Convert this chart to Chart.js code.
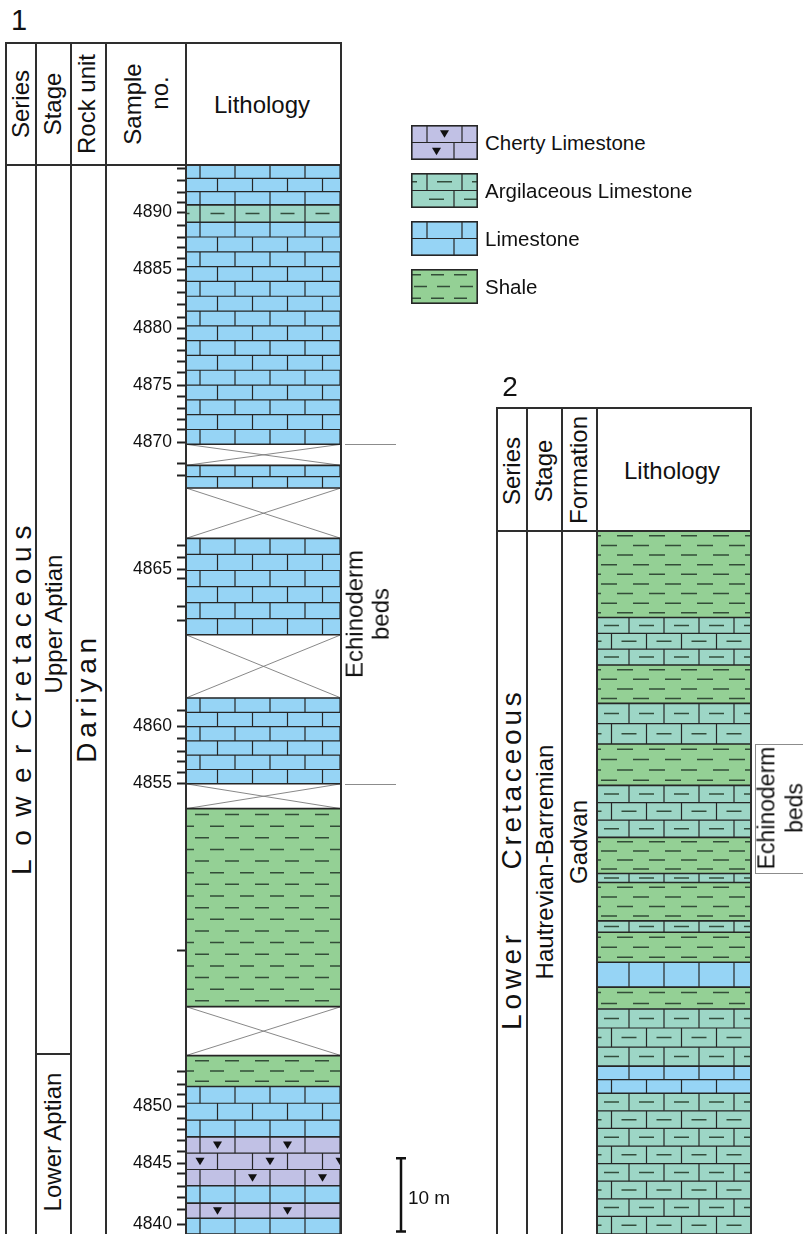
<!DOCTYPE html>
<html>
<head>
<meta charset="utf-8">
<script src="https://cdn.jsdelivr.net/npm/chart.js@4.4.1/dist/chart.umd.min.js"></script>
<style>
  html, body { margin: 0; padding: 0; background: #fff; }
  body { width: 803px; height: 1234px; position: relative; overflow: hidden;
         font-family: "Liberation Sans", Arial, sans-serif; color: #111; }
  canvas { position: absolute; }
  .ln { position: absolute; background: #2e2e2e; }
  .t { position: absolute; white-space: nowrap; line-height: 1; transform: translate(-50%, -50%); }
  .r { transform: translate(-50%, -50%) rotate(-90deg); text-align: center; }
</style>
</head>
<body>
<canvas id="col1" width="360" height="1069" style="left:106px;top:165px"></canvas>
<canvas id="col2" width="206" height="703" style="left:597px;top:531px"></canvas>
<div id="frames"></div>
<div id="legend"></div>

<div class="t" style="left:19px;top:20px;font-size:29px">1</div>
<div class="t r" style="left:21px;top:104px;font-size:24px">Series</div>
<div class="t r" style="left:53px;top:104px;font-size:24px">Stage</div>
<div class="t r" style="left:87px;top:104px;font-size:24px">Rock unit</div>
<div class="t r" style="left:133px;top:104px;font-size:24px">Sample</div>
<div class="t r" style="left:160px;top:93px;font-size:24px">no.</div>
<div class="t" style="left:262px;top:105px;font-size:24px">Lithology</div>

<div class="t r" style="left:22px;top:624px;font-size:28px;letter-spacing:6.7px">Cretaceous</div>
<div class="t r" style="left:22px;top:803px;font-size:28px;letter-spacing:13.5px">Lower</div>
<div class="t r" style="left:54px;top:624px;font-size:24px">Upper Aptian</div>
<div class="t r" style="left:53px;top:1142px;font-size:24px">Lower Aptian</div>
<div class="t r" style="left:87px;top:698px;font-size:28px;letter-spacing:4.7px">Dariyan</div>
<div class="t r" style="left:368px;top:614px;font-size:24px;line-height:1.1">Echinoderm<br>beds</div>
<div class="t" style="left:429px;top:1197px;font-size:19px">10 m</div>

<div class="t" style="left:510px;top:387px;font-size:28px">2</div>
<div class="t r" style="left:512px;top:471px;font-size:24px">Series</div>
<div class="t r" style="left:544px;top:471px;font-size:24px">Stage</div>
<div class="t r" style="left:579px;top:470px;font-size:24px">Formation</div>
<div class="t" style="left:672px;top:471px;font-size:24px">Lithology</div>
<div class="t r" style="left:512px;top:779px;font-size:28px;letter-spacing:3.8px">Cretaceous</div>
<div class="t r" style="left:512px;top:980px;font-size:28px;letter-spacing:4.7px">Lower</div>
<div class="t r" style="left:545px;top:862px;font-size:24px">Hautrevian-Barremian</div>
<div class="t r" style="left:579px;top:842px;font-size:24px">Gadvan</div>
<div class="t r" style="left:781px;top:808px;font-size:23px;line-height:1.2">Echinoderm<br>beds</div>

<script>
// bed boundaries in metres above the base of the figure, bottom to top
const sec1Bounds = [0, 2.1, 4.1, 6.4, 12.9, 19.6, 23.7, 30.2, 56.5, 59.8, 71.2, 79.6, 92.4, 99.1, 102.1, 104.9, 134.4, 136.7, 142];
const sec1Liths = ['limestone', 'cherty', 'limestone', 'cherty', 'limestone', 'shale', 'gap', 'shale', 'gap',
  'limestone', 'gap', 'limestone', 'gap', 'limestone', 'gap', 'limestone', 'argillaceous', 'limestone'];
const sec1Beds = [59.8, 104.9];

const sampleNos = [4840, 4841, 4842, 4843, 4844, 4845, 4846, 4847, 4848, 4849, 4850, 4851, 4852, 4853, 4854,
  4855, 4856, 4857, 4858, 4859, 4860, 4861, 4862, 4863, 4864, 4865, 4866, 4867, 4868, 4869, 4870, 4871, 4872,
  4873, 4874, 4875, 4876, 4877, 4878, 4879, 4880, 4881, 4882, 4883, 4884, 4885, 4886, 4887, 4888, 4889, 4890,
  4891, 4892, 4893, 4894];
const sampleHeights = [1.3, 3.3, 4.8, 6.3, 8.0, 9.4, 10.9, 12.4, 13.9, 15.4, 17.0, 18.5, 19.9, 21.6, 37.6,
  59.9, 61.3, 62.8, 64.1, 65.8, 67.4, 69.5, 81.5, 83.4, 87.1, 88.3, 89.9, 91.4, 100.8, 102.4, 105.2, 106.8, 108.2,
  109.7, 111.2, 112.7, 114.4, 115.9, 117.4, 118.9, 120.3, 121.8, 123.5, 125.1, 126.7, 128.1, 129.6, 131.0, 132.4, 134.0, 135.7,
  137.0, 138.4, 140.0, 141.5];

const sec2Bounds = [0, 18.7, 22.3, 29.9, 32.8, 36.1, 40.1, 41.6, 46.7, 47.9, 52.7, 59.6, 65.1, 70.5, 75.6, 81.9, 93.4];
const sec2Liths = ['argillaceous', 'limestone', 'argillaceous', 'shale', 'limestone', 'shale', 'argillaceous', 'shale',
  'argillaceous', 'shale', 'argillaceous', 'shale', 'argillaceous', 'shale', 'argillaceous', 'shale'];
const sec2Beds = [47.9, 65.1];

const scaleBar = [0.2, 10.2];

const legendKeys = ['cherty', 'argillaceous', 'limestone', 'shale'];
const legendNames = ['Cherty Limestone', 'Argilaceous Limestone', 'Limestone', 'Shale'];

const fills = {
  limestone: '#96d4f5',
  argillaceous: '#9dd6c6',
  shale: '#94d095',
  cherty: '#c1c1e5',
  gap: '#ffffff'
};
const ink = '#262626';
const dashInk = 'rgba(40,62,45,0.9)';

function drawBricks(ctx, x0, y0, w, h, o, dash, chert) {
  const rows = Math.max(1, Math.round(h / o.rowPx));
  const rh = h / rows;
  for (let r = 0; r < rows; r++) {
    const yt = y0 + r * rh;
    const off = o.offsets[r % 2];
    ctx.strokeStyle = ink;
    ctx.lineWidth = 1.2;
    ctx.beginPath();
    if (r > 0) { ctx.moveTo(x0, yt); ctx.lineTo(x0 + w, yt); }
    for (let x = x0 + off; x < x0 + w - 0.5; x += o.brickW) {
      ctx.moveTo(x, yt); ctx.lineTo(x, yt + rh);
    }
    ctx.stroke();
    let k = 0;
    for (let cx = x0 + off - o.brickW / 2; cx < x0 + w + o.brickW / 2; cx += o.brickW, k++) {
      const cy = yt + rh / 2;
      if (dash) {
        ctx.strokeStyle = dashInk;
        ctx.lineWidth = 1.5;
        ctx.beginPath();
        ctx.moveTo(cx - o.dashLen / 2, cy); ctx.lineTo(cx + o.dashLen / 2, cy);
        ctx.stroke();
      }
      if (chert && (k + r + Math.floor(r / 2)) % 2 === 1) {
        ctx.fillStyle = '#111';
        ctx.beginPath();
        ctx.moveTo(cx - 4.5, cy - 3.5); ctx.lineTo(cx + 4.5, cy - 3.5); ctx.lineTo(cx, cy + 4);
        ctx.closePath();
        ctx.fill();
      }
    }
  }
}

function drawShale(ctx, x0, y0, w, h, o) {
  const rows = Math.max(1, Math.round(h / o.shaleRow));
  const sp = h / rows;
  ctx.strokeStyle = dashInk;
  ctx.lineWidth = 1.5;
  ctx.beginPath();
  for (let r = 0; r < rows; r++) {
    const yy = y0 + (r + 0.5) * sp;
    for (let x = x0 + o.shaleOff[r % 2] - o.shalePeriod; x < x0 + w; x += o.shalePeriod) {
      ctx.moveTo(x, yy); ctx.lineTo(x + o.shaleLen, yy);
    }
  }
  ctx.stroke();
}

function drawGap(ctx, x0, y0, w, h) {
  ctx.strokeStyle = '#7a7a7a';
  ctx.lineWidth = 0.9;
  ctx.beginPath();
  ctx.moveTo(x0, y0); ctx.lineTo(x0 + w, y0 + h);
  ctx.moveTo(x0 + w, y0); ctx.lineTo(x0, y0 + h);
  ctx.stroke();
}

function drawLith(ctx, lith, x0, y0, w, h, o) {
  if (lith === 'limestone') drawBricks(ctx, x0, y0, w, h, o, false, false);
  else if (lith === 'argillaceous') drawBricks(ctx, x0, y0, w, h, o, true, false);
  else if (lith === 'cherty') drawBricks(ctx, x0, y0, w, h, o, false, true);
  else if (lith === 'shale') drawShale(ctx, x0, y0, w, h, o);
  else drawGap(ctx, x0, y0, w, h);
}

const lithoPlugin = {
  id: 'litho',
  afterDatasetsDraw(chart, args, o) {
    const ctx = chart.ctx;
    const y = chart.scales.y;
    const area = chart.chartArea;
    chart.data.datasets.forEach((ds, i) => {
      const el = chart.getDatasetMeta(i).data[0];
      const x0 = el.x - el.width / 2;
      const top = Math.min(el.y, el.base);
      const h = Math.abs(el.base - el.y);
      ctx.save();
      ctx.beginPath();
      ctx.rect(x0, top, el.width, h);
      ctx.clip();
      drawLith(ctx, ds.lith, x0, top, el.width, h, o);
      ctx.restore();
    });
    ctx.save();
    ctx.strokeStyle = ink;
    ctx.lineWidth = 1.6;
    ctx.beginPath();
    chart.data.datasets.forEach(ds => {
      ds.data[0].forEach(v => {
        const py = y.getPixelForValue(v);
        ctx.moveTo(area.left, py); ctx.lineTo(area.right, py);
      });
    });
    ctx.stroke();

    // echinoderm beds markers
    ctx.strokeStyle = '#8c8c8c';
    ctx.lineWidth = 1;
    ctx.beginPath();
    const bx = area.right + o.bedsFrom;
    o.beds.forEach(v => {
      const py = Math.round(y.getPixelForValue(v)) + 0.5;
      ctx.moveTo(bx, py); ctx.lineTo(area.right + o.bedsTo, py);
    });
    if (o.bracket) {
      ctx.moveTo(bx + 0.5, y.getPixelForValue(o.beds[0]));
      ctx.lineTo(bx + 0.5, y.getPixelForValue(o.beds[1]));
    }
    ctx.stroke();

    if (o.scaleBar) {
      const sx = area.right + o.scaleBarX;
      const y1 = y.getPixelForValue(o.scaleBar[0]);
      const y2 = y.getPixelForValue(o.scaleBar[1]);
      ctx.strokeStyle = '#111';
      ctx.lineWidth = 2.5;
      ctx.beginPath();
      ctx.moveTo(sx, y1); ctx.lineTo(sx, y2);
      ctx.moveTo(sx - 5, y1 - 1); ctx.lineTo(sx + 5, y1 - 1);
      ctx.moveTo(sx - 5, y2 + 1); ctx.lineTo(sx + 5, y2 + 1);
      ctx.stroke();
    }
    ctx.restore();
  }
};

function makeColumn(id, bounds, liths, yScale, paddingRight, patternOpts) {
  return new Chart(document.getElementById(id), {
    type: 'bar',
    data: {
      labels: ['Lithology'],
      datasets: liths.map((lith, i) => ({
        label: lith,
        lith: lith,
        data: [[bounds[i], bounds[i + 1]]],
        backgroundColor: fills[lith],
        borderWidth: 0,
        barPercentage: 1,
        categoryPercentage: 1,
        grouped: false
      }))
    },
    options: {
      responsive: false,
      animation: false,
      layout: { padding: { left: 0, right: paddingRight, top: 0, bottom: 0 }, autoPadding: false },
      plugins: {
        legend: { display: false },
        tooltip: { enabled: false },
        litho: patternOpts
      },
      scales: {
        x: { display: false },
        y: yScale
      }
    },
    plugins: [lithoPlugin]
  });
}

makeColumn('col1', sec1Bounds, sec1Liths, {
  min: 0,
  max: sec1Bounds[sec1Bounds.length - 1],
  position: 'left',
  afterFit: s => { s.width = 80; s.paddingTop = 0; s.paddingBottom = 0; },
  afterBuildTicks: axis => { axis.ticks = sampleHeights.map(v => ({ value: v })); },
  ticks: {
    autoSkip: false,
    padding: 5,
    color: '#111',
    font: { family: 'Liberation Sans', size: 17.5 },
    callback: (v, i) => (sampleNos[i] % 5 === 0 ? String(sampleNos[i]) : '')
  },
  grid: { drawOnChartArea: false, tickLength: 9, tickWidth: 2, tickColor: '#222' },
  border: { display: false }
}, 125, {
  rowPx: 15, brickW: 35, offsets: [14, 31.5], dashLen: 14,
  shaleRow: 11.5, shaleOff: [9, 24], shalePeriod: 30, shaleLen: 14,
  beds: sec1Beds, bedsFrom: 4, bedsTo: 55, bracket: false,
  scaleBar: scaleBar, scaleBarX: 60
});

makeColumn('col2', sec2Bounds, sec2Liths, {
  display: false,
  min: 0,
  max: sec2Bounds[sec2Bounds.length - 1]
}, 52, {
  rowPx: 17, brickW: 35, offsets: [32, 14.5], dashLen: 15,
  shaleRow: 9.4, shaleOff: [20, 4], shalePeriod: 32, shaleLen: 16,
  beds: sec2Beds, bedsFrom: 4, bedsTo: 52, bracket: true,
  scaleBar: null
});

// frames of the two columns
const frames = document.getElementById('frames');
function hLine(x1, x2, y) {
  const d = document.createElement('div');
  d.className = 'ln';
  d.style.cssText = `left:${x1 - 1}px;top:${y - 1}px;width:${x2 - x1 + 2}px;height:2px`;
  frames.appendChild(d);
}
function vLine(x, y1, y2) {
  const d = document.createElement('div');
  d.className = 'ln';
  d.style.cssText = `left:${x - 1}px;top:${y1 - 1}px;width:2px;height:${y2 - y1 + 2}px`;
  frames.appendChild(d);
}
[6, 36, 71, 106, 186, 341].forEach(x => vLine(x, 43, 1236));
hLine(6, 341, 43);
hLine(6, 341, 165);
hLine(36, 71, 1054);
[497, 527, 562, 597, 751].forEach(x => vLine(x, 408, 1236));
hLine(497, 751, 408);
hLine(497, 751, 531);

// legend
const legend = document.getElementById('legend');
const swatchOpts = {
  rowPx: 17, brickW: 35, offsets: [16, 43], dashLen: 15,
  shaleRow: 11, shaleOff: [20, 3], shalePeriod: 23, shaleLen: 13
};
legendKeys.forEach((key, i) => {
  const top = 125 + i * 48;
  const c = document.createElement('canvas');
  c.width = 67; c.height = 35;
  c.style.left = '411px';
  c.style.top = top + 'px';
  legend.appendChild(c);
  const ctx = c.getContext('2d');
  ctx.fillStyle = fills[key];
  ctx.fillRect(0, 0, 67, 35);
  drawLith(ctx, key, 0, 0, 67, 35, swatchOpts);
  ctx.strokeStyle = ink;
  ctx.lineWidth = 1.6;
  ctx.strokeRect(0.8, 0.8, 65.4, 33.4);
  const t = document.createElement('div');
  t.className = 't';
  t.style.cssText = `left:485px;top:${top + 18}px;font-size:20.5px;transform:translateY(-50%)`;
  t.textContent = legendNames[i];
  legend.appendChild(t);
});
</script>
</body>
</html>
